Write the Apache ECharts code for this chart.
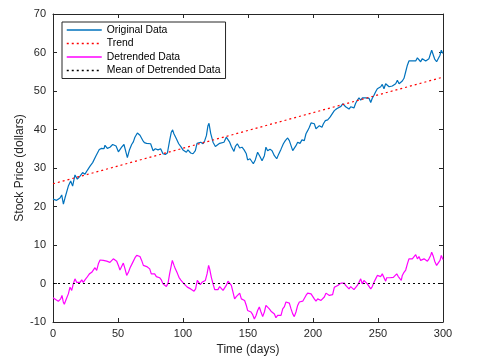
<!DOCTYPE html>
<html>
<head>
<meta charset="utf-8">
<script src="https://cdn.jsdelivr.net/npm/echarts@6/dist/echarts.min.js"></script>
<style>
html,body{margin:0;padding:0;background:#fff;}
#chart{width:478px;height:363px;}
</style>
</head>
<body>
<div id="chart"></div>
<script>
// Original stock price data (days, dollars)
var origDays = [0,2.8,5.4,6.7,8,9.2,11.8,13.6,15.1,16.9,18.7,20.8,22.8,24.6,26.4,28.5,30.5,31.8,33,34.4,35.6,37.4,39.2,40,41.8,43.8,45.9,46.9,48.5,50.3,51.5,52.8,54.6,56.2,57.2,58.7,60.5,61.8,63,64.9,65.6,66.9,69,70.3,72,73.1,75.1,77,78.7,80.8,82.8,84.6,86.4,88,89.7,91,92,93,94.9,96.7,98.2,100,101.3,102.6,103.8,105.9,107.7,109.5,110.8,112.1,113.6,115.4,116.7,118,119.2,120,121.3,123.1,124.9,126.4,128.2,129.5,131.5,133.3,134.6,135.9,137.2,139.2,140.3,141.8,143.6,145.4,147,148.7,149.7,151.5,153,154.1,155.6,157.4,159.2,160.8,162.6,163.8,165.1,166.9,168.5,170.3,172.1,173.6,175.4,177.2,178.7,180.5,181.8,183.1,184.4,185.6,186.9,188.2,190,191.5,193.3,194.6,195.9,197.2,198.5,199.7,201,202.3,203.6,204.9,206.9,208,209.5,211.3,213.1,214.6,216.4,218.2,219.7,221.5,222.8,224.1,225.1,226.4,227.7,229,230.2,231.5,232.8,234.1,235.4,236.7,238,239.2,240.5,241.8,243.1,244.4,245.6,246.9,248.2,249.5,250.8,252.1,253.3,254.6,255.9,257.2,258.5,259.7,261,262.3,263.6,264.9,266.2,267.4,268.7,270,271.3,272.6,273.8,275.1,276.4,277.7,279,280.3,281.5,282.8,284.1,285.4,286.7,288,289.2,290.5,291.3,292.6,293.6,295.1,296.4,297.7,298.7,299.5,300];
var origPrice = [21.9,21.6,22.2,23.0,20.6,22.2,25.3,26.6,25.3,28.2,27.1,27.9,28.8,28.4,29.4,30.5,31.4,31.8,33.1,32.7,34.8,35.1,35.0,35.9,35.1,35.4,36.1,36.4,35.7,34.2,34.0,35.4,36.1,34.0,32.7,34.6,36.1,36.8,38.0,39.1,39.4,38.5,37.2,36.6,36.4,36.7,36.3,34.5,35.0,34.7,35.0,33.7,33.5,33.9,37.1,39.3,39.9,38.9,37.6,36.3,35.6,34.7,35.2,34.1,34.7,33.9,33.7,34.5,36.4,36.1,36.7,36.3,37.1,38.4,41.0,41.6,39.0,36.7,35.6,35.8,36.4,36.0,36.7,38.0,37.8,36.7,35.6,34.3,35.6,36.3,35.2,35.4,34.7,33.7,32.1,32.4,31.9,31.1,32.1,34.1,33.0,31.9,33.2,35.4,34.5,34.9,34.5,33.2,32.4,33.6,34.9,36.3,37.1,37.8,37.1,35.8,34.5,34.4,35.8,36.7,36.4,37.3,37.1,38.9,39.7,40.6,41.7,41.9,41.5,40.2,40.6,41.0,40.6,41.5,42.3,42.5,43.2,43.0,44.9,45.4,45.8,46.0,46.7,46.5,45.9,46.3,45.3,45.9,45.5,45.6,46.8,47.6,48.2,47.6,48.2,48.7,48.2,48.5,48.1,47.0,48.1,48.9,49.8,50.6,50.5,51.1,51.7,50.6,51.9,51.5,51.1,51.5,51.3,51.7,51.9,52.8,51.9,51.5,52.6,53.3,55.0,56.7,57.8,58.1,57.8,58.3,57.8,58.6,58.1,57.6,58.4,58.1,57.8,58.3,58.4,59.8,60.6,59.3,58.3,57.6,57.8,59.3,60.6,60.0,59.8];

// Linear trend (end points)
var trendDays = [0, 300];
var trendPrice = [25.9, 53.6];

// Detrended data
var detDays = [0,2.3,4.1,5.9,6.9,7.9,8.7,10,11.8,13.1,14.4,15.6,16.9,18.2,19.5,20.8,22.1,23.3,24.6,25.9,28,29.8,31,32.3,33.6,34.9,36.2,37.4,38.7,40,41.3,42.6,43.8,45.1,46.4,47.7,49,50.3,51.5,52.8,54.1,55.4,56.7,58,59.3,60.5,61.8,63.1,64.4,65.6,66.9,68.2,69.5,70.8,72.1,73.3,74.4,75.6,76.9,78.2,79.5,80.8,82,83.3,84.6,85.9,87.2,88.5,89.7,91,91.8,93.1,94.1,95.6,96.9,98.2,99.5,100.8,101.8,103.3,104.4,105.9,107.2,108.5,109.7,111,112.1,113.3,114.6,115.9,117.2,118.5,119.7,120.5,121.8,123.1,124.4,125.6,126.9,128.2,129.5,130.8,132.1,133.3,134.6,135.9,137.2,138.5,139.7,141,142.3,143.6,144.9,146.2,147.4,148.7,149.7,151,152.3,153.6,154.9,156.2,157.4,158.7,160,161.3,162.6,163.8,165.1,166.4,167.7,169,170.3,171.5,172.8,174.1,175.4,176.7,178,179.2,180.5,181.8,183.1,184.4,185.6,186.9,188.2,189.5,190.8,192.1,193.3,194.6,195.9,197.2,198.5,199.7,201,202.3,203.6,204.9,206.2,207.4,208.7,210,211.3,212.6,213.8,215.1,216.4,217.7,219,220.3,221.5,222.8,224.1,225.1,226.4,227.7,229,230.3,231.5,232.8,234.1,235.4,236.7,237.9,239.2,240.5,241.8,243.1,244.4,245.6,246.9,248.2,249.5,250.8,252.1,253.3,254.6,255.9,256.7,258,259.2,260.5,261.8,263.1,264.4,265.6,266.9,267.9,268.7,270,271.3,272.6,273.8,275.1,276.4,277.7,279,280.3,281.5,282.8,284.1,285.4,286.7,288,289.2,290.5,291.3,292.6,293.6,295.1,296.4,297.7,298.7,299.5,300];
var detPrice = [-3.7,-4.2,-4.6,-4.0,-3.1,-4.8,-5.4,-4.2,-2.7,-0.95,-1.8,-0.1,1.2,0.3,-0.1,0.3,0.95,0.3,0.95,1.5,2.5,2.9,3.2,4.1,3.4,5.1,6.1,5.8,6.0,6.4,5.8,6.1,5.5,5.1,6.4,6.7,5.8,4.7,3.5,4.4,5.3,3.8,2.1,2.9,4.1,4.9,5.3,6.7,7.3,7.7,7.0,6.0,4.7,4.9,4.4,4.7,3.8,2.5,2.1,2.5,1.8,2.1,1.5,0.95,-0.1,-0.3,-0.8,0.1,2.5,4.7,6.0,4.7,3.8,2.7,1.6,0.95,0.6,-0.1,0.1,-0.95,-0.5,-1.4,-1.8,-2.0,-1.4,0.8,0.3,-0.3,0.3,0.1,0.8,2.5,4.7,3.8,1.6,-0.1,-1.6,-1.8,-1.6,-0.8,-1.2,-1.8,-1.4,-0.5,0.6,0.3,-0.5,-2.3,-4.0,-3.4,-2.9,-2.5,-4.0,-3.7,-4.4,-5.7,-7.0,-7.2,-7.4,-8.1,-9.2,-8.3,-7.0,-6.1,-7.4,-8.6,-7.4,-5.7,-6.1,-6.6,-7.2,-7.0,-7.9,-8.9,-8.3,-8.1,-8.3,-6.6,-6.0,-4.8,-4.4,-5.1,-6.6,-7.9,-8.6,-7.4,-5.7,-4.8,-5.3,-4.6,-5.1,-3.1,-2.5,-2.3,-2.7,-2.3,-4.0,-4.6,-4.0,-3.7,-4.4,-4.8,-3.5,-2.5,-2.7,-3.1,-2.7,-2.9,-1.0,-1.0,-0.5,-0.1,0.1,0.3,0.1,-0.5,-0.3,-1.4,-0.8,-1.0,-1.6,-1.8,-0.5,0.3,1.2,-0.1,0.8,0.6,-0.1,-0.5,-1.4,-0.8,0.3,1.2,2.1,1.6,1.8,2.5,2.7,0.6,1.5,1.8,1.5,1.8,1.6,2.1,2.5,1.8,1.6,0.8,2.1,2.9,3.5,5.1,6.4,6.7,6.4,6.8,7.5,6.4,7.0,6.0,5.8,6.4,6.7,5.8,6.4,7.3,8.1,7.0,5.8,4.7,4.9,6.0,7.3,6.8,6.2];

// Mean of detrended data
var meanDays = [0, 300];
var meanValue = [0, 0];

function pairs(xs, ys) { return xs.map(function (x, i) { return [x, ys[i]]; }); }

var AX = '#262626';
var FONT = '"Liberation Sans", Arial, Helvetica, sans-serif';

var chart = echarts.init(document.getElementById('chart'), null, { renderer: 'canvas' });
chart.setOption({
  animation: false,
  backgroundColor: '#ffffff',
  textStyle: { fontFamily: FONT },
  grid: { left: 53, right: 35, top: 14, bottom: 41, containLabel: false },
  legend: {
    orient: 'vertical',
    left: 62, top: 22,
    backgroundColor: '#ffffff',
    borderColor: AX, borderWidth: 1,
    padding: [3, 5, 3, 4],
    itemWidth: 35, itemHeight: 10, itemGap: 3.5,
    itemStyle: { opacity: 0, borderWidth: 0 },
    lineStyle: { width: 1.5 },
    textStyle: { fontSize: 10.4, color: '#000', fontFamily: FONT },
    data: ['Original Data', 'Trend', 'Detrended Data', 'Mean of Detrended Data']
  },
  xAxis: [{
    type: 'value', min: 0, max: 300, interval: 50, position: 'bottom',
    name: 'Time (days)', nameLocation: 'middle', nameGap: 22, nameMoveOverlap: false,
    nameTextStyle: { fontSize: 12, color: AX, fontFamily: FONT },
    axisLine: { show: true, onZero: false, lineStyle: { color: AX, width: 1 } },
    axisTick: { show: true, inside: true, length: 4, lineStyle: { color: AX } },
    axisLabel: { fontSize: 11, color: AX, margin: 6, fontFamily: FONT },
    splitLine: { show: false }
  }, {
    type: 'value', min: 0, max: 300, interval: 50, position: 'top',
    axisLine: { show: true, onZero: false, lineStyle: { color: AX, width: 1 } },
    axisTick: { show: true, inside: true, length: 4, lineStyle: { color: AX } },
    axisLabel: { show: false }, splitLine: { show: false }
  }],
  yAxis: [{
    type: 'value', min: -10, max: 70, interval: 10, position: 'left',
    name: 'Stock Price (dollars)', nameLocation: 'middle', nameGap: 27, nameMoveOverlap: false,
    nameTextStyle: { fontSize: 12, color: AX, fontFamily: FONT },
    axisLine: { show: true, onZero: false, lineStyle: { color: AX, width: 1 } },
    axisTick: { show: true, inside: true, length: 4, lineStyle: { color: AX } },
    axisLabel: { fontSize: 11, color: AX, margin: 7, fontFamily: FONT },
    splitLine: { show: false }
  }, {
    type: 'value', min: -10, max: 70, interval: 10, position: 'right',
    axisLine: { show: true, onZero: false, lineStyle: { color: AX, width: 1 } },
    axisTick: { show: true, inside: true, length: 4, lineStyle: { color: AX } },
    axisLabel: { show: false }, splitLine: { show: false }
  }],
  series: [{
    name: 'Original Data', type: 'line', showSymbol: false, symbol: 'none',
    data: pairs(origDays, origPrice),
    lineStyle: { color: '#0072BD', width: 1.2 }, itemStyle: { color: '#0072BD' }
  }, {
    name: 'Trend', type: 'line', showSymbol: false, symbol: 'none',
    data: pairs(trendDays, trendPrice),
    lineStyle: { color: '#FF0000', width: 1.2, type: [2, 3] }, itemStyle: { color: '#FF0000' }
  }, {
    name: 'Detrended Data', type: 'line', showSymbol: false, symbol: 'none',
    data: pairs(detDays, detPrice),
    lineStyle: { color: '#FF00FF', width: 1.2 }, itemStyle: { color: '#FF00FF' }
  }, {
    name: 'Mean of Detrended Data', type: 'line', showSymbol: false, symbol: 'none',
    data: pairs(meanDays, meanValue),
    lineStyle: { color: '#000000', width: 1.2, type: [2, 3] }, itemStyle: { color: '#000000' }
  }]
});
</script>
</body>
</html>
